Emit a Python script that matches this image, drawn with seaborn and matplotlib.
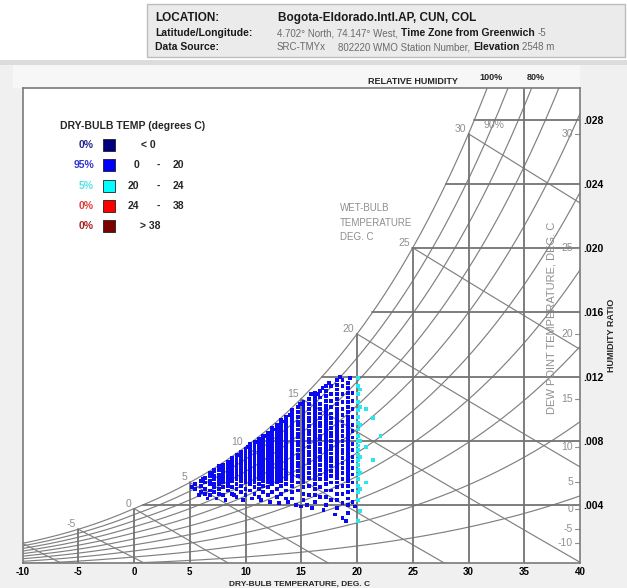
import numpy as np
import pandas as pd
import matplotlib
matplotlib.use("Agg")
import matplotlib.pyplot as plt
from matplotlib.patches import Rectangle
import seaborn as sns

# ---------------- station header ----------------
location_name = "Bogota-Eldorado.Intl.AP, CUN, COL"
lat_lon_text = "4.702° North, 74.147° West,"
time_zone = "-5"
source_name = "SRC-TMYx"
station_text = "802220 WMO Station Number,"
elevation_text = "2548 m"

# ---------------- chart scales ----------------
dry_bulb_ticks = [-10, -5, 0, 5, 10, 15, 20, 25, 30, 35, 40]
dry_bulb_grid = [-5, 0, 5, 10, 15, 20, 25, 30, 35]
hum_ratio_ticks = [0.004, 0.008, 0.012, 0.016, 0.020, 0.024, 0.028]
hum_ratio_labels = [".004", ".008", ".012", ".016", ".020", ".024", ".028"]
rh_levels = [0.1, 0.2, 0.3, 0.4, 0.5, 0.6, 0.7, 0.8, 0.9, 1.0]
wet_bulb_levels = [-10, -5, 0, 5, 10, 15, 20, 25, 30]
wet_bulb_labelled = [-5, 0, 5, 10, 15, 20, 25, 30]
dew_point_ticks = [30, 25, 20, 15, 10, 5, 0, -5, -10]

# ---------------- dry-bulb bands ----------------
band_low = [None, 0, 20, 24, 38]
band_high = [0, 20, 24, 38, None]
band_edges = [-60, 0, 20, 24, 38, 60]
band_colors = ["#00007f", "#0000ff", "#00ffff", "#ff0000", "#7f0000"]
share_colors = ["#24248c", "#3434d2", "#55e3ea", "#e23a3a", "#a52222"]
point_colors = ["#00007f", "#0a0af0", "#2ae6ee", "#ff0000", "#7f0000"]

# ---------------- hourly readings ----------------
# dry-bulb columns (deg C) and the humidity ratios (g/kg) recorded at each
cool_db = [5.5, 6.0, 6.4, 6.8, 7.2, 7.6, 8.0, 8.4, 8.8, 9.2, 9.6, 10.0, 10.4,
           10.8, 11.2, 11.6, 12.0, 12.4, 12.8, 13.2, 13.6, 14.2, 14.7, 15.2,
           15.7, 16.2, 16.7, 17.2, 17.7, 18.2, 18.7, 19.2, 19.6]
cool_w = [
    [5.0, 5.3],
    [4.8, 5.2, 5.5],
    [4.7, 5.0, 5.4, 5.7],
    [4.6, 4.9, 5.3, 5.5, 5.8, 6.0],
    [4.8, 5.1, 5.3, 5.6, 5.8, 6.1, 6.2],
    [4.7, 5.0, 5.3, 5.5, 5.7, 5.9, 6.2, 6.4],
    [4.6, 5.1, 5.4, 5.6, 5.7, 5.9, 6.1, 6.3, 6.5],
    [4.9, 5.2, 5.4, 5.6, 5.8, 6.0, 6.1, 6.3, 6.5, 6.7],
    [4.7, 5.1, 5.5, 5.7, 5.8, 6.0, 6.2, 6.3, 6.5, 6.7, 6.9],
    [4.5, 5.0, 5.3, 5.6, 5.8, 5.9, 6.1, 6.3, 6.4, 6.6, 6.8, 6.9, 7.1],
    [4.8, 5.2, 5.5, 5.7, 5.9, 6.0, 6.2, 6.4, 6.5, 6.7, 6.8, 7.0, 7.2, 7.3],
    [4.6, 5.0, 5.4, 5.6, 5.8, 6.0, 6.1, 6.3, 6.4, 6.6, 6.7, 6.9, 7.0, 7.2,
     7.4, 7.5],
    [4.9, 5.3, 5.5, 5.7, 5.9, 6.1, 6.2, 6.4, 6.5, 6.7, 6.8, 7.0, 7.1, 7.3,
     7.5, 7.6, 7.8],
    [4.7, 5.1, 5.4, 5.6, 5.8, 6.0, 6.1, 6.3, 6.5, 6.6, 6.8, 6.9, 7.1, 7.2,
     7.4, 7.6, 7.7, 7.9],
    [4.5, 5.0, 5.3, 5.6, 5.8, 5.9, 6.1, 6.2, 6.4, 6.6, 6.7, 6.9, 7.0, 7.2,
     7.3, 7.5, 7.7, 7.8, 8.0, 8.1],
    [4.8, 5.2, 5.5, 5.7, 5.9, 6.0, 6.2, 6.4, 6.5, 6.7, 6.8, 7.0, 7.2, 7.3,
     7.5, 7.6, 7.8, 7.9, 8.1, 8.3],
    [4.6, 5.1, 5.4, 5.6, 5.8, 6.0, 6.1, 6.3, 6.4, 6.6, 6.8, 6.9, 7.1, 7.2,
     7.4, 7.6, 7.7, 7.9, 8.0, 8.2, 8.4, 8.5],
    [4.8, 5.3, 5.5, 5.7, 5.9, 6.1, 6.2, 6.4, 6.5, 6.7, 6.9, 7.0, 7.2, 7.3,
     7.5, 7.7, 7.8, 8.0, 8.1, 8.3, 8.5, 8.6, 8.8],
    [4.5, 5.0, 5.4, 5.6, 5.8, 6.0, 6.1, 6.3, 6.5, 6.6, 6.8, 6.9, 7.1, 7.3,
     7.4, 7.6, 7.7, 7.9, 8.1, 8.2, 8.4, 8.5, 8.7, 8.9, 9.0],
    [4.7, 5.2, 5.5, 5.7, 5.9, 6.1, 6.2, 6.4, 6.5, 6.7, 6.9, 7.0, 7.2, 7.3,
     7.5, 7.7, 7.8, 8.0, 8.1, 8.3, 8.5, 8.6, 8.8, 8.9, 9.1, 9.3],
    [4.4, 4.9, 5.3, 5.6, 5.8, 6.0, 6.1, 6.3, 6.5, 6.6, 6.8, 6.9, 7.1, 7.3,
     7.4, 7.6, 7.7, 7.9, 8.1, 8.2, 8.4, 8.5, 8.7, 8.9, 9.0, 9.2, 9.3, 9.5],
    [4.4, 4.8, 5.2, 5.5, 5.7, 5.8, 6.0, 6.1, 6.3, 6.4, 6.6, 6.7, 6.9, 7.0,
     7.2, 7.3, 7.5, 7.6, 7.8, 7.9, 8.1, 8.2, 8.4, 8.5, 8.7, 8.8, 9.0, 9.1,
     9.3, 9.4, 9.6, 9.8, 9.9],
    [4.9, 5.4, 5.8, 6.1, 6.4, 6.6, 6.9, 7.1, 7.4, 7.7, 7.9, 8.2, 8.4, 8.7,
     9.0, 9.2, 9.5, 9.8, 10.1],
    [4.3, 4.7, 5.1, 5.4, 5.6, 5.8, 5.9, 6.1, 6.2, 6.4, 6.5, 6.7, 6.8, 7.0,
     7.1, 7.3, 7.4, 7.6, 7.7, 7.9, 8.0, 8.2, 8.3, 8.5, 8.6, 8.8, 8.9, 9.1,
     9.2, 9.4, 9.5, 9.7, 9.9, 10.0, 10.2, 10.4],
    [4.6, 5.2, 5.7, 6.0, 6.3, 6.6, 6.8, 7.1, 7.3, 7.6, 7.9, 8.1, 8.4, 8.6,
     8.9, 9.2, 9.4, 9.7, 10.0, 10.3, 10.6],
    [4.2, 4.6, 5.0, 5.3, 5.6, 5.8, 5.9, 6.1, 6.2, 6.4, 6.5, 6.7, 6.8, 7.0,
     7.1, 7.3, 7.4, 7.6, 7.7, 7.9, 8.0, 8.2, 8.3, 8.5, 8.6, 8.8, 8.9, 9.1,
     9.2, 9.4, 9.5, 9.7, 9.8, 10.0, 10.2, 10.4, 10.6, 10.8, 11.0],
    [4.5, 5.1, 5.6, 5.9, 6.2, 6.5, 6.8, 7.0, 7.3, 7.5, 7.8, 8.1, 8.3, 8.6,
     8.9, 9.1, 9.4, 9.7, 10.0, 10.3, 10.7, 11.1],
    [4.0, 4.5, 4.9, 5.3, 5.6, 5.8, 6.0, 6.1, 6.3, 6.4, 6.6, 6.7, 6.9, 7.0,
     7.2, 7.3, 7.5, 7.6, 7.8, 7.9, 8.1, 8.2, 8.4, 8.5, 8.7, 8.8, 9.0, 9.1,
     9.3, 9.4, 9.6, 9.8, 10.0, 10.2, 10.5, 10.8, 11.1, 11.4],
    [4.3, 4.9, 5.4, 5.8, 6.1, 6.4, 6.7, 6.9, 7.2, 7.5, 7.7, 8.0, 8.3, 8.5,
     8.8, 9.1, 9.4, 9.7, 10.1, 10.5, 10.9, 11.4],
    [3.8, 4.3, 4.7, 5.1, 5.4, 5.7, 5.9, 6.0, 6.2, 6.3, 6.5, 6.6, 6.8, 6.9,
     7.1, 7.2, 7.4, 7.5, 7.7, 7.8, 8.0, 8.1, 8.3, 8.4, 8.6, 8.7, 8.9, 9.0,
     9.2, 9.4, 9.6, 9.8, 10.0, 10.3, 10.6, 10.9, 11.2, 11.5, 11.8],
    [3.2, 4.1, 4.7, 5.2, 5.6, 6.0, 6.3, 6.6, 6.9, 7.2, 7.4, 7.7, 8.0, 8.3,
     8.6, 8.9, 9.2, 9.6, 10.0, 10.4, 10.9, 11.4, 11.8],
    [3.5, 4.0, 4.4, 4.8, 5.2, 5.5, 5.7, 5.9, 6.0, 6.2, 6.3, 6.5, 6.6, 6.8,
     6.9, 7.1, 7.2, 7.4, 7.5, 7.7, 7.8, 8.0, 8.1, 8.3, 8.5, 8.7, 8.9, 9.1,
     9.3, 9.5, 9.8, 10.1, 10.4, 10.7, 11.0, 11.3, 11.6],
    [4.2, 4.9, 5.4, 5.9, 6.3, 6.7, 7.0, 7.4, 7.8, 8.2, 8.6, 9.0, 9.5, 10.0,
     10.5, 11.0],
]
# scattered readings off the main columns
stray_db = [5.2, 5.8, 6.2, 6.6, 7.0, 7.4, 7.8, 8.2, 8.6, 9.0, 9.4, 9.8, 10.2,
            10.6, 11.0, 11.4, 11.8, 12.2, 12.6, 13.0, 13.4, 13.8, 14.0, 14.5,
            15.0, 15.5, 16.0, 16.5, 17.0, 17.5, 18.0, 18.5, 19.0, 19.4, 19.8,
            14.9, 15.9, 16.9]
stray_w = [5.1, 4.6, 5.6, 4.4, 5.9, 4.4, 6.2, 4.3, 6.6, 4.6, 7.1, 4.3, 7.6,
           4.4, 7.9, 4.3, 8.3, 4.2, 8.7, 4.1, 9.2, 4.2, 9.6, 4.0, 3.9, 4.0,
           3.8, 10.9, 3.7, 11.6, 3.4, 12.0, 3.0, 11.9, 3.9, 10.3, 10.9, 11.3]
warm_db = [20.1, 20.3, 20.8, 21.4, 22.1]
warm_w = [
    [3.0, 4.3, 4.8, 5.2, 5.6, 5.9, 6.2, 6.5, 6.8, 7.1, 7.4, 7.7, 8.0, 8.3,
     8.7, 9.1, 9.5, 9.9, 10.4, 10.9, 11.4, 11.9],
    [3.6, 5.0, 6.0, 7.0, 8.0, 9.0, 10.1, 11.2],
    [5.4, 7.6, 10.0],
    [6.8, 9.4],
    [8.3],
]

# ---------------- psychrometrics (sea-level chart) ----------------
P_ATM = 101.325


def p_sat(t):
    t = np.asarray(t, dtype=float)
    over_water = 0.61094 * np.exp(17.625 * t / (t + 243.04))
    over_ice = 0.61115 * np.exp(22.452 * t / (t + 272.55))
    return np.where(t >= 0, over_water, over_ice)


def hum_ratio(t, rh=1.0):
    pv = rh * p_sat(t)
    return 0.622 * pv / (P_ATM - pv)


T_FINE = np.linspace(-10, 40, 1001)


def temp_at(w, rh=1.0):
    return float(np.interp(w, hum_ratio(T_FINE, rh), T_FINE))


def wet_bulb_w(twb, t):
    ws = hum_ratio(twb)
    if twb >= 0:
        return ((2501 - 2.326 * twb) * ws - 1.006 * (t - twb)) / (2501 + 1.86 * t - 4.186 * twb)
    return ((2830 - 0.24 * twb) * ws - 1.006 * (t - twb)) / (2830 + 1.86 * t - 2.1 * twb)


# ---------------- tidy tables ----------------
rows = []
for cols_t, cols_w in ((cool_db, cool_w), (warm_db, warm_w)):
    for t, ws in zip(cols_t, cols_w):
        for w in ws:
            rows.append((t, w / 1000.0))
for t, w in zip(stray_db, stray_w):
    rows.append((t, w / 1000.0))
hours = pd.DataFrame(rows, columns=["dry_bulb", "hum_ratio"])
hours["band"] = pd.cut(hours["dry_bulb"], band_edges, right=False, labels=False)
counts = hours["band"].value_counts().reindex(range(5), fill_value=0)
shares = [int(round(100.0 * c / len(hours))) for c in counts]

rh_table = pd.DataFrame(
    [(rh, t, w) for rh in rh_levels for t, w in zip(T_FINE, hum_ratio(T_FINE, rh))],
    columns=["rh", "t", "w"],
)

# ---------------- figure ----------------
sns.set_theme(style="white")
plt.rcParams["font.family"] = ["Liberation Sans", "DejaVu Sans"]

W, H = 627, 588
fig = plt.figure(figsize=(W / 100, H / 100), dpi=100, facecolor="#f0f0f0")


def fx(px):
    return px / W


def fy(py):
    return 1 - py / H


# page panels (kept beneath the chart axes)
fig.patches.append(Rectangle((0, fy(60)), 1, fy(0) - fy(60), transform=fig.transFigure,
                             facecolor="white", edgecolor="none", zorder=-3))
fig.patches.append(Rectangle((fx(147), fy(57)), fx(625) - fx(147), fy(4) - fy(57),
                             transform=fig.transFigure, facecolor="#ebebeb",
                             edgecolor="#bdbdbd", lw=1, zorder=-2))
fig.patches.append(Rectangle((0, fy(65)), 1, fy(60) - fy(65), transform=fig.transFigure,
                             facecolor="#dcdcdc", edgecolor="none", zorder=-2))
fig.patches.append(Rectangle((fx(13), fy(88)), fx(580) - fx(13), fy(65) - fy(88),
                             transform=fig.transFigure, facecolor="#f7f7f7",
                             edgecolor="none", zorder=-2))

X0, X1, Y_TOP, Y_BOT = 22.5, 580, 88, 562.6
ax = fig.add_axes([fx(X0), fy(Y_BOT), fx(X1) - fx(X0), fy(Y_TOP) - fy(Y_BOT)])
ax.set_facecolor("white")
W_MIN, W_MAX = 0.0004, 0.030
ax.set_xlim(-10, 40)
ax.set_ylim(W_MIN, W_MAX)
for sp in ax.spines.values():
    sp.set_color("#7a7a7a")
    sp.set_linewidth(1.2)

line_kw = dict(color="#808080", lw=0.85, zorder=1)
grid_kw = dict(color="#737373", lw=1.3, zorder=1)

# relative humidity curves
sns.lineplot(data=rh_table, x="t", y="w", units="rh", estimator=None, ax=ax,
             color="#808080", lw=0.85, legend=False, zorder=1)

# wet-bulb lines
for twb in wet_bulb_levels:
    t = np.linspace(twb, 40, 300)
    ax.plot(t, wet_bulb_w(twb, t), **line_kw)

# dry-bulb and humidity-ratio grid, bounded by saturation
for t0 in dry_bulb_grid:
    ax.plot([t0, t0], [W_MIN, min(float(hum_ratio(t0)), W_MAX)], **grid_kw)
for w0 in hum_ratio_ticks:
    ax.plot([temp_at(w0), 40], [w0, w0], **grid_kw)

# hourly points
palette = {i: point_colors[i] for i in range(5)}
sns.scatterplot(data=hours, x="dry_bulb", y="hum_ratio", hue="band", palette=palette,
                marker="s", s=7.5, linewidth=0, legend=False, ax=ax, zorder=3)

ax.set_xlabel("")
ax.set_ylabel("")
ax.set_xticks(dry_bulb_ticks)
ax.set_xticklabels([str(v) for v in dry_bulb_ticks], fontsize=7, fontweight="bold",
                   color="black")
ax.tick_params(axis="x", length=0, pad=3)
ax.yaxis.tick_right()
ax.set_yticks(hum_ratio_ticks)
ax.set_yticklabels(hum_ratio_labels, fontsize=7.5, fontweight="bold", color="black")
ax.tick_params(axis="y", length=0, pad=2)

label_grey = "#8f8f8f"

# wet-bulb labels at saturation
for twb in wet_bulb_labelled:
    ax.annotate(str(twb), (twb, float(hum_ratio(twb))), xytext=(-2, 0),
                textcoords="offset points", ha="right", va="bottom",
                fontsize=7.5, color=label_grey, zorder=4)

# dew-point scale along the right edge
for td in dew_point_ticks:
    w = float(hum_ratio(td))
    ax.plot([39.55, 40], [w, w], color=label_grey, lw=0.8, zorder=2)
    ax.annotate(str(td), (39.5, w), xytext=(-1, 0), textcoords="offset points",
                ha="right", va="center", fontsize=7.5, color=label_grey, zorder=4)

# relative humidity labels
ax.annotate("100%", (temp_at(W_MAX, 1.0), W_MAX), xytext=(3, 4), textcoords="offset points",
            ha="center", va="bottom", fontsize=6.5, fontweight="bold", annotation_clip=False)
ax.annotate("80%", (temp_at(W_MAX, 0.8), W_MAX), xytext=(3, 4), textcoords="offset points",
            ha="center", va="bottom", fontsize=6.5, fontweight="bold", annotation_clip=False)
ax.annotate("90%", (temp_at(0.0277, 0.9), 0.0277), xytext=(1, 0), textcoords="offset points",
            ha="center", va="center", fontsize=7.5, color=label_grey, zorder=4)
fig.text(fx(458), fy(82), "RELATIVE HUMIDITY", ha="right", va="center",
         fontsize=6.5, fontweight="bold")

# wet-bulb caption
for i, s in enumerate(["WET-BULB", "TEMPERATURE", "DEG. C"]):
    fig.text(fx(340), fy(208 + 14.5 * i), s, ha="left", va="center", fontsize=7,
             color=label_grey)

fig.text(fx(552), fy(318), "DEW POINT TEMPERATURE, DEG. C", rotation=90, ha="center",
         va="center", fontsize=8, color=label_grey)
fig.text(fx(612), fy(335), "HUMIDITY RATIO", rotation=90, ha="center", va="center",
         fontsize=6.5, fontweight="bold")
fig.text(fx(300), fy(586), "DRY-BULB TEMPERATURE, DEG. C", ha="center", va="baseline",
         fontsize=6, fontweight="bold")

# band legend
fig.text(fx(60), fy(126), "DRY-BULB TEMP (degrees C)", ha="left", va="center",
         fontsize=7.5, fontweight="bold")
for i in range(5):
    yc = 145 + 20.3 * i
    fig.text(fx(94), fy(yc), f"{shares[i]}%", ha="right", va="center", fontsize=7.5,
             fontweight="bold", color=share_colors[i])
    fig.patches.append(Rectangle((fx(103), fy(yc + 6)), fx(115) - fx(103), fy(yc - 6) - fy(yc + 6),
                                 transform=fig.transFigure, facecolor=band_colors[i],
                                 edgecolor="#202020", lw=0.6, zorder=5))
    if band_low[i] is None:
        fig.text(fx(148), fy(yc), f"< {band_high[i]}", ha="center", va="center",
                 fontsize=7.5, fontweight="bold")
    elif band_high[i] is None:
        fig.text(fx(150), fy(yc), f"> {band_low[i]}", ha="center", va="center",
                 fontsize=7.5, fontweight="bold")
    else:
        fig.text(fx(139), fy(yc), str(band_low[i]), ha="right", va="center",
                 fontsize=7.5, fontweight="bold")
        fig.text(fx(158), fy(yc), "-", ha="center", va="center", fontsize=7.5,
                 fontweight="bold")
        fig.text(fx(173), fy(yc), str(band_high[i]), ha="left", va="center",
                 fontsize=7.5, fontweight="bold")

# header lines, written piece by piece
fig.canvas.draw()
renderer = fig.canvas.get_renderer()


def text_run(x_px, y_px, parts):
    x = x_px
    for s, gap, kw in parts:
        x += gap
        t = fig.text(fx(x), fy(y_px), s, ha="left", va="baseline", **kw)
        x += t.get_window_extent(renderer).width


bold_k = dict(fontweight="bold", color="#1a1a1a")
norm_k = dict(color="#6a6a6a")
text_run(155, 21, [("LOCATION:", 0, dict(fontsize=8.5, **bold_k))])
text_run(278, 21, [(location_name, 0, dict(fontsize=8.5, **bold_k))])
text_run(155, 36, [("Latitude/Longitude:", 0, dict(fontsize=7.5, **bold_k))])
text_run(277, 36, [(lat_lon_text, 0, dict(fontsize=7, **norm_k)),
                   ("Time Zone from Greenwich", 3, dict(fontsize=7.5, **bold_k)),
                   (time_zone, 3, dict(fontsize=7, **norm_k))])
text_run(155, 50, [("Data Source:", 0, dict(fontsize=7.5, **bold_k))])
text_run(277, 50, [(source_name, 0, dict(fontsize=7, **norm_k)),
                   (station_text, 12, dict(fontsize=7, **norm_k)),
                   ("Elevation", 3, dict(fontsize=7.5, **bold_k)),
                   (elevation_text, 3, dict(fontsize=7, **norm_k))])

fig.savefig("out.png", dpi=100, facecolor=fig.get_facecolor())
print(len(hours), shares)
